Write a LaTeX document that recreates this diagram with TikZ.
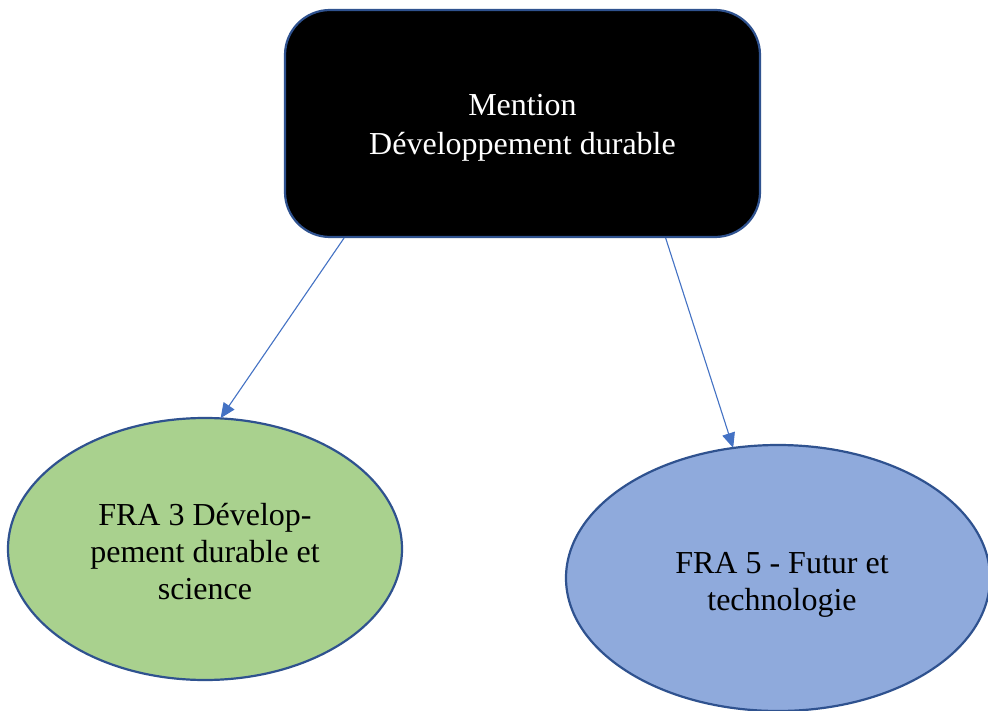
\documentclass[tikz,border=0pt]{standalone}
\usepackage{fontspec}
\setmainfont{Liberation Serif}
\usetikzlibrary{shapes.geometric,arrows.meta,calc}
\definecolor{edgeblue}{HTML}{2F528F}
\definecolor{arrowblue}{HTML}{4472C4}
\definecolor{greenfill}{HTML}{A9D18E}
\definecolor{bluefill}{HTML}{8FAADC}
\tikzset{
  topbox/.style={draw=edgeblue, line width=2.2pt, fill=black, rounded corners=45pt,
    minimum width=475pt, minimum height=227pt, inner sep=0pt},
  ovalbox/.style={ellipse, draw=edgeblue, line width=2.2pt, inner sep=0pt},
  lbl/.style={align=center, inner sep=0pt, font=\fontsize{32}{37}\selectfont},
  conn/.style={draw=arrowblue, line width=1.1pt, -{Triangle[length=15pt,width=13pt]}, shorten >=-1pt}
}
\begin{document}
\begin{tikzpicture}[x=1pt,y=-1pt]
\useasboundingbox (0,0) rectangle (988,711);
\clip (0,0) rectangle (988,711);
\fill[white] (0,0) rectangle (988,711);
\node[topbox] (top) at (522.5,123.5) {};
\node[lbl, text=white, font=\fontsize{32}{39}\selectfont] (toptext) at (522.5,128) {Mention\\Développement durable};
\node[ovalbox, fill=greenfill, minimum width=394pt, minimum height=262pt] (green) at (205,549) {};
\node[lbl] (greentext) at (205,552) {FRA 3 Dévelop-\\pement durable et\\science};
\node[ovalbox, fill=bluefill, minimum width=424pt, minimum height=266pt] (blue) at (778,578) {};
\node[lbl] (bluetext) at (782,585) {FRA 5 - Futur et\\technologie};
\coordinate (s1) at ($(top.south west)!0.126!(top.south east)$);
\coordinate (s2) at ($(top.south west)!0.8!(top.south east)$);
\draw[conn] (s1) -- (green.83.5);
\draw[conn] (s2) -- (blue.109);
\end{tikzpicture}
\end{document}
